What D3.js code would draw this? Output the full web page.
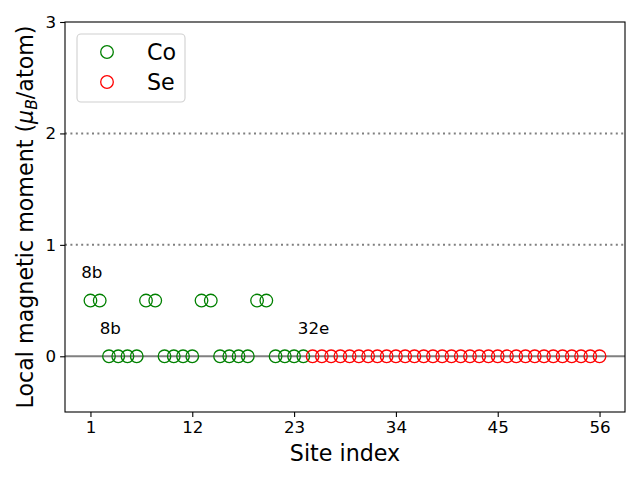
<!DOCTYPE html>
<html><head><meta charset="utf-8">
<script src="https://cdn.jsdelivr.net/npm/d3@7"></script>
<style>body{margin:0;background:#fff}svg{display:block}text{font-family:"DejaVu Sans",sans-serif}</style>
</head><body>
<svg id="c" width="640" height="480"></svg>
<script>
const coSites = d3.range(1,25);
const coValues = [0.5,0.5,0,0,0,0, 0.5,0.5,0,0,0,0, 0.5,0.5,0,0,0,0, 0.5,0.5,0,0,0,0];
const seSites = d3.range(25,57);
const seValues = seSites.map(()=>0);
const xTicks = [1,12,23,34,45,56];
const yTicks = [0,1,2,3];
const refLines = [1,2];
const annotations = [{t:"8b",x:0,y:0.7},{t:"8b",x:2,y:0.2},{t:"32e",x:23.4,y:0.2}];
const series = [{name:"Co",color:"green",sites:coSites,values:coValues},{name:"Se",color:"red",sites:seSites,values:seValues}];

const svg = d3.select("#c");
const L=65,R=625,T=22,B=412;
const x = d3.scaleLinear().domain([-1.75,58.75]).range([L,R]);
const y = d3.scaleLinear().domain([-0.5,3]).range([B,T]);

// reference lines
svg.selectAll(".ref").data(refLines).enter().append("line")
  .attr("x1",L).attr("x2",R).attr("y1",d=>y(d)).attr("y2",d=>y(d))
  .attr("stroke","#808080").attr("stroke-width",2).attr("stroke-dasharray","2,3.4");
svg.append("line").attr("x1",L).attr("x2",R).attr("y1",y(0)).attr("y2",y(0))
  .attr("stroke","#808080").attr("stroke-width",2);

series.forEach(s=>{
  svg.append("g").selectAll("circle").data(s.sites.map((d,i)=>[d,s.values[i]])).enter().append("circle")
    .attr("cx",d=>x(d[0])).attr("cy",d=>y(d[1])).attr("r",6.3)
    .attr("fill","none").attr("stroke",s.color).attr("stroke-width",1.3);
});

svg.selectAll(".ann").data(annotations).enter().append("text")
  .attr("x",d=>x(d.x)).attr("y",d=>y(d.y)).attr("font-size",16.7).text(d=>d.t);

// axes
const xa = svg.append("g").attr("transform",`translate(0,${B})`)
  .call(d3.axisBottom(x).tickValues(xTicks).tickFormat(d3.format("d")).tickSize(4.9).tickPadding(4));
const ya = svg.append("g").attr("transform",`translate(${L},0)`)
  .call(d3.axisLeft(y).tickValues(yTicks).tickFormat(d3.format("d")).tickSize(4.9).tickPadding(4));
[xa,ya].forEach(a=>{a.select(".domain").remove();a.selectAll("text").attr("font-size",16.7).attr("fill","#000").style("font-family","DejaVu Sans");a.selectAll("line").attr("stroke","#000").attr("stroke-width",1.1);});
svg.append("rect").attr("x",L).attr("y",T).attr("width",R-L).attr("height",B-T)
  .attr("fill","none").attr("stroke","#000").attr("stroke-width",1.1);

svg.append("text").attr("x",(L+R)/2).attr("y",461).attr("text-anchor","middle").attr("font-size",22.2).text("Site index");
const yl = svg.append("text").attr("transform",`translate(33,${(T+B)/2}) rotate(-90)`).attr("text-anchor","middle").attr("font-size",22.2);
yl.append("tspan").text("Local magnetic moment (");
yl.append("tspan").attr("font-style","italic").text("μ");
yl.append("tspan").attr("font-style","italic").attr("font-size",15.5).attr("dy",4).text("B");
yl.append("tspan").attr("dy",-4).text("/atom)");

// legend
const lg = svg.append("g");
lg.append("rect").attr("x",77).attr("y",34).attr("width",108).attr("height",68).attr("rx",4)
  .attr("fill","#fff").attr("fill-opacity",0.8).attr("stroke","#d0d0d0").attr("stroke-width",1.1);
series.forEach((s,i)=>{
  lg.append("circle").attr("cx",107).attr("cy",52+i*30).attr("r",6.3).attr("fill","none").attr("stroke",s.color).attr("stroke-width",1.3);
  lg.append("text").attr("x",147).attr("y",60+i*30).attr("font-size",22.2).text(s.name);
});
</script>
</body></html>
